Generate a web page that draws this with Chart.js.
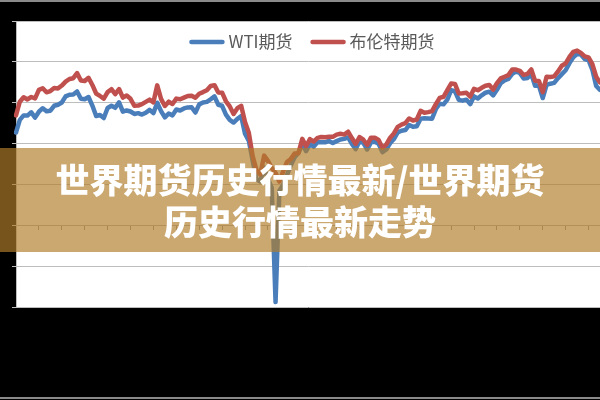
<!DOCTYPE html>
<html lang="zh-CN">
<head>
<meta charset="utf-8">
<title>世界期货历史行情最新/世界期货历史行情最新走势</title>
<script src="https://cdn.jsdelivr.net/npm/chart.js@4.4.1/dist/chart.umd.min.js"></script>
<style>
    html, body { margin: 0; padding: 0; background: #000; }
    .wrap { position: relative; width: 600px; height: 400px; overflow: hidden; }
    #myChart { display: block; }
    .banner {
        position: absolute; left: 0; top: 148px; width: 600px; height: 104px;
        background: rgba(176, 125, 42, 0.67);
        display: flex; align-items: center; justify-content: center;
        text-align: center; color: #fff;
        font-family: "Noto Sans CJK SC", "Noto Sans", sans-serif;
        font-weight: 900; font-size: 34px; line-height: 42px;
    }
</style>
</head>
<body>
<div class="wrap">
    <canvas id="myChart" width="600" height="400"></canvas>
    <div class="banner">世界期货历史行情最新/世界期货<br>历史行情最新走势</div>
</div>
<script>
// weekly dates (plus the 2020-04-20 daily low)
const dates = [
    '2019-01-04','2019-01-11','2019-01-18','2019-01-25','2019-02-01','2019-02-08','2019-02-15','2019-02-22',
    '2019-03-01','2019-03-08','2019-03-15','2019-03-22','2019-03-29','2019-04-05','2019-04-12','2019-04-19',
    '2019-04-26','2019-05-03','2019-05-10','2019-05-17','2019-05-24','2019-05-31','2019-06-07','2019-06-14',
    '2019-06-21','2019-06-28','2019-07-05','2019-07-12','2019-07-19','2019-07-26','2019-08-02','2019-08-09',
    '2019-08-16','2019-08-23','2019-08-30','2019-09-06','2019-09-13','2019-09-20','2019-09-27','2019-10-04',
    '2019-10-11','2019-10-18','2019-10-25','2019-11-01','2019-11-08','2019-11-15','2019-11-22','2019-11-29',
    '2019-12-06','2019-12-13','2019-12-20','2019-12-27',
    '2020-01-03','2020-01-10','2020-01-17','2020-01-24','2020-01-31','2020-02-07','2020-02-14','2020-02-21',
    '2020-02-28','2020-03-06','2020-03-13','2020-03-20','2020-03-27','2020-04-03','2020-04-10','2020-04-17',
    '2020-04-20','2020-04-24','2020-05-01','2020-05-08','2020-05-15','2020-05-22','2020-05-29','2020-06-05',
    '2020-06-12','2020-06-19','2020-06-26','2020-07-03','2020-07-10','2020-07-17','2020-07-24','2020-07-31',
    '2020-08-07','2020-08-14','2020-08-21','2020-08-28','2020-09-04','2020-09-11','2020-09-18','2020-09-25',
    '2020-10-02','2020-10-09','2020-10-16','2020-10-23','2020-10-30','2020-11-06','2020-11-13','2020-11-20',
    '2020-11-27','2020-12-04','2020-12-11','2020-12-18','2020-12-25',
    '2021-01-01','2021-01-08','2021-01-15','2021-01-22','2021-01-29','2021-02-05','2021-02-12','2021-02-19',
    '2021-02-26','2021-03-05','2021-03-12','2021-03-19','2021-03-26','2021-04-02','2021-04-09','2021-04-16',
    '2021-04-23','2021-04-30','2021-05-07','2021-05-14','2021-05-21','2021-05-28','2021-06-04','2021-06-11',
    '2021-06-18','2021-06-25','2021-07-02','2021-07-09','2021-07-16','2021-07-23','2021-07-30','2021-08-06',
    '2021-08-13','2021-08-20','2021-08-27','2021-09-03','2021-09-10','2021-09-17','2021-09-24','2021-10-01',
    '2021-10-08','2021-10-15','2021-10-22','2021-10-29','2021-11-05','2021-11-12','2021-11-19','2021-11-26',
    '2021-12-03'
];

const wti = [
    45.4, 51.6, 53.8, 53.7, 55.3, 52.7, 55.6, 57.3, 55.8, 56.1, 58.5, 59.0, 60.1, 63.1, 63.9, 64.0,
    65.5, 61.9, 61.7, 62.8, 58.6, 53.5, 54.0, 52.5, 57.4, 58.5, 57.5, 60.2, 55.6, 56.2, 55.7, 54.5,
    54.9, 54.2, 55.1, 56.5, 54.9, 60.0, 55.9, 52.8, 54.7, 53.8, 56.7, 56.2, 57.2, 57.7, 57.8, 55.2,
    59.2, 60.1, 60.4, 61.7,
    63.1, 59.0, 58.5, 54.2, 51.6, 50.3, 52.1, 53.4, 44.8, 41.3, 31.7, 22.4, 21.5, 28.3, 22.8, 18.3,
    -37.6, 16.9, 19.8, 24.7, 29.4, 33.3, 35.5, 39.6, 36.3, 39.8, 38.5, 40.7, 40.6, 40.6, 41.3, 40.3,
    41.2, 42.0, 42.3, 43.0, 39.8, 37.3, 41.1, 40.3, 37.1, 40.6, 40.9, 39.9, 35.8, 37.1, 40.1, 42.2,
    45.5, 46.3, 46.6, 49.1, 48.2,
    48.5, 52.2, 52.4, 52.3, 52.2, 56.9, 59.5, 59.2, 61.5, 66.1, 65.6, 61.4, 61.0, 61.5, 59.3, 63.1,
    62.1, 63.6, 64.9, 65.4, 63.6, 66.3, 69.6, 70.9, 71.6, 74.1, 75.2, 74.6, 71.8, 72.1, 74.0, 68.3,
    68.4, 62.3, 68.7, 69.3, 69.7, 72.0, 74.0, 75.9, 79.4, 82.3, 83.8, 83.6, 81.3, 80.8, 76.1, 68.2,
    66.3
];

const brent = [
    53.8, 60.5, 62.7, 61.6, 62.8, 62.1, 66.3, 67.1, 65.1, 65.7, 67.2, 67.0, 68.4, 70.3, 71.6, 72.0,
    74.5, 70.9, 70.6, 72.2, 68.7, 64.5, 63.3, 62.0, 65.2, 66.6, 64.2, 66.7, 62.5, 63.5, 61.9, 58.5,
    58.6, 59.3, 60.4, 61.5, 60.2, 68.5, 61.9, 58.4, 60.5, 59.4, 62.0, 61.7, 62.5, 63.3, 63.4, 62.4,
    64.4, 65.2, 66.1, 68.2,
    68.6, 65.0, 64.9, 60.7, 58.2, 54.5, 57.3, 58.5, 50.5, 45.3, 33.9, 27.0, 24.9, 34.1, 31.5, 28.1,
    25.6, 21.4, 26.4, 31.0, 32.5, 35.1, 35.3, 42.3, 38.7, 42.2, 41.0, 42.8, 43.2, 43.1, 43.3, 43.3,
    44.4, 44.8, 44.4, 45.8, 42.7, 39.8, 43.2, 41.9, 39.3, 42.9, 42.9, 41.8, 37.9, 39.5, 42.8, 45.0,
    48.2, 49.3, 50.0, 52.3, 51.3,
    51.8, 56.0, 55.1, 55.4, 55.9, 59.3, 62.4, 62.9, 66.1, 69.4, 69.2, 64.5, 64.6, 64.9, 63.0, 66.8,
    66.1, 67.3, 68.3, 68.7, 66.4, 69.6, 71.9, 72.7, 73.5, 76.2, 76.2, 75.6, 73.6, 74.1, 76.3, 70.7,
    70.6, 65.2, 72.7, 72.6, 72.9, 75.3, 78.1, 79.3, 82.4, 84.9, 85.5, 84.4, 82.7, 82.2, 78.9, 72.7,
    69.9
];

const seriesNames = ['WTI期货', '布伦特期货'];
const seriesColors = ['#4a7ebb', '#c0504d'];
const yTicks = { min: -40, max: 100, step: 20 };

// black frame, white plot area
const framePlugin = {
    id: 'frame',
    beforeDraw(chart) {
        const { ctx, chartArea: a, width, height } = chart;
        ctx.save();
        ctx.fillStyle = '#000';
        ctx.fillRect(0, 0, width, height);
        ctx.fillStyle = '#fff';
        ctx.fillRect(a.left, a.top, a.right - a.left, a.bottom - a.top);
        ctx.fillStyle = '#8a8a8a';
        ctx.fillRect(0, 0, width, 2);
        ctx.fillRect(0, height - 3, width, 2);
        ctx.restore();
    },
};

// legend sitting inside the plot, like the spreadsheet one
const innerLegend = {
    id: 'innerLegend',
    afterDraw(chart) {
        const { ctx, chartArea: a } = chart;
        const sets = chart.data.datasets;
        const sample = 35, gap = 4, between = 18;
        ctx.save();
        ctx.font = '17px "Noto Sans CJK SC", "Noto Sans", sans-serif';
        ctx.textBaseline = 'middle';
        const widths = sets.map((d) => sample + gap + ctx.measureText(d.label).width);
        const total = widths.reduce((s, w) => s + w, 0) + between * (sets.length - 1);
        let x = (a.left + a.right) / 2 + 4 - total / 2;
        const y = 42;
        sets.forEach((d, i) => {
            ctx.strokeStyle = d.borderColor;
            ctx.lineWidth = 4.5;
            ctx.lineCap = 'round';
            ctx.beginPath();
            ctx.moveTo(x + 2, y);
            ctx.lineTo(x + sample - 2, y);
            ctx.stroke();
            ctx.fillStyle = '#595959';
            ctx.fillText(d.label, x + sample + gap, y);
            x += widths[i] + between;
        });
        ctx.restore();
    },
};

const data = {
    labels: dates,
    datasets: [
        {
            label: seriesNames[0],
            data: wti,
            borderColor: seriesColors[0],
            backgroundColor: seriesColors[0],
            borderWidth: 4.5,
            order: 1,
        },
        {
            label: seriesNames[1],
            data: brent,
            borderColor: seriesColors[1],
            backgroundColor: seriesColors[1],
            borderWidth: 4.5,
            order: 0,
        },
    ],
};

// config
const config = {
    type: 'line',
    data,
    options: {
        responsive: false,
        animation: false,
        events: [],
        layout: { padding: { left: 12, top: 21, right: 0, bottom: 93 } },
        elements: {
            point: { radius: 0 },
            line: { tension: 0, borderJoinStyle: 'round', borderCapStyle: 'round' },
        },
        plugins: {
            legend: { display: false },
            tooltip: { enabled: false },
        },
        scales: {
            x: {
                position: { y: 0 },
                offset: false,
                ticks: { display: false },
                grid: {
                    drawOnChartArea: false,
                    drawTicks: true,
                    tickLength: 4,
                    color: (c) => (c.index % 6 === 0 ? '#9a9a9a' : 'rgba(0,0,0,0)'),
                },
                border: { display: true, color: '#b5b5b5' },
            },
            y: {
                min: yTicks.min,
                max: yTicks.max,
                ticks: { display: false, stepSize: yTicks.step },
                grid: { color: '#bdbdbd', tickLength: 4, drawTicks: true },
                border: { display: true, color: '#bdbdbd' },
            },
        },
    },
    plugins: [framePlugin, innerLegend],
};

const myChart = new Chart(document.getElementById('myChart'), config);
</script>
</body>
</html>
